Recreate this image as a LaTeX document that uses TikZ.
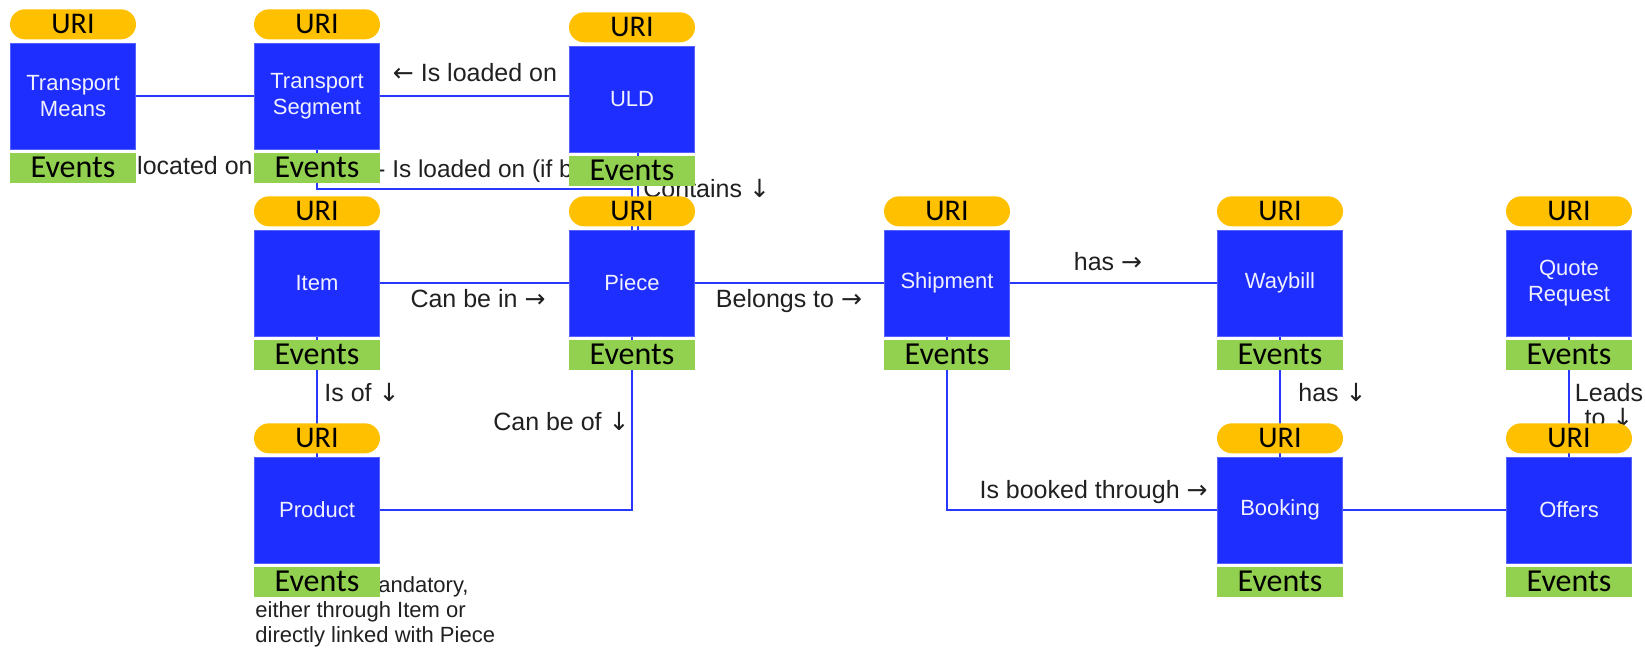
\documentclass[tikz,border=0pt]{standalone}
\usepackage{fontspec}
\setmainfont{Liberation Sans}
\newfontfamily\calibri{Carlito}
\newfontfamily\arrowfont{DejaVu Sans}
\newcommand{\ar}[1]{{\arrowfont #1}}
\usetikzlibrary{positioning,backgrounds}
\definecolor{entblue}{RGB}{30,46,255}
\definecolor{linkblue}{RGB}{40,56,255}
\definecolor{uriyellow}{RGB}{255,192,0}
\definecolor{evtgreen}{RGB}{146,208,80}
\definecolor{lblgray}{RGB}{32,32,32}

\begin{document}
\begin{tikzpicture}[x=0.5pt, y=-0.5pt,
  ent/.style={fill=entblue, draw=entblue!75!white, line width=0.3pt,
              minimum width=62.5pt, minimum height=53pt, inner sep=1pt,
              align=center, text=white!94!blue, font=\fontsize{11}{13}\selectfont},
  uri/.style={fill=uriyellow, rounded corners=7.5pt, minimum width=63pt,
              minimum height=15pt, inner sep=0pt, font=\calibri\fontsize{15}{15}\selectfont},
  evt/.style={fill=evtgreen, minimum width=63pt, minimum height=15pt,
              inner sep=0pt, font=\calibri\fontsize{16}{16}\selectfont},
  link/.style={draw=linkblue, line width=1pt},
  lbl/.style={text=lblgray, inner sep=0pt, font=\fontsize{12.5}{12.5}\selectfont},
  note/.style={text=lblgray, inner sep=0pt, align=left, font=\fontsize{11}{12.5}\selectfont},
  ]
  \useasboundingbox (0,0) rectangle (1645,650);

  % entities
  \node[ent] (tm) at (73,96) {Transport\\Means};
  \node[ent] (ts) at (317,96) {Transport\\Segment};
  \node[ent] (uld) at (632,99) {ULD};
  \node[ent] (item) at (317,283) {Item};
  \node[ent] (piece) at (632,283) {Piece};
  \node[ent] (ship) at (947,283) {Shipment};
  \node[ent] (wb) at (1280,283) {Waybill};
  \node[ent] (qr) at (1569,283) {Quote\\Request};
  \node[ent] (prod) at (317,510) {Product};
  \node[ent] (book) at (1280,510) {Booking};
  \node[ent] (off) at (1569,510) {Offers};

  % URI tags
  \node[uri, above=1.5pt of tm] (tm-u) {URI};
  \node[uri, above=1.5pt of ts] (ts-u) {URI};
  \node[uri, above=1.5pt of uld] (uld-u) {URI};
  \node[uri, above=1.5pt of item] (item-u) {URI};
  \node[uri, above=1.5pt of piece] (piece-u) {URI};
  \node[uri, above=1.5pt of ship] (ship-u) {URI};
  \node[uri, above=1.5pt of wb] (wb-u) {URI};
  \node[uri, above=1.5pt of qr] (qr-u) {URI};
  \node[uri, above=1.5pt of prod] (prod-u) {URI};
  \node[uri, above=1.5pt of book] (book-u) {URI};
  \node[uri, above=1.5pt of off] (off-u) {URI};

  % event bars
  \node[evt, below=1.5pt of tm] (tm-e) {Events};
  \node[evt, below=1.5pt of ts] (ts-e) {Events};
  \node[evt, below=1.5pt of uld] (uld-e) {Events};
  \node[evt, below=1.5pt of item] (item-e) {Events};
  \node[evt, below=1.5pt of piece] (piece-e) {Events};
  \node[evt, below=1.5pt of ship] (ship-e) {Events};
  \node[evt, below=1.5pt of wb] (wb-e) {Events};
  \node[evt, below=1.5pt of qr] (qr-e) {Events};
  \node[evt, below=1.5pt of prod] (prod-e) {Events};
  \node[evt, below=1.5pt of book] (book-e) {Events};
  \node[evt, below=1.5pt of off] (off-e) {Events};

  \begin{scope}[on background layer]
    \draw[link] (tm) -- (ts);
    \draw[link] (ts.east) -- (ts.east -| uld.west);
    \draw[link] (ts.south) -- (ts.south |- 0,189) -| (piece.north);
    \draw[link] ([xshift=3pt]uld.south) -- ([xshift=3pt]piece.north);
    \draw[link] (item) -- (piece);
    \draw[link] (piece) -- (ship);
    \draw[link] (ship) -- (wb);
    \draw[link] (item) -- (prod);
    \draw[link] (piece.south) |- (prod.east);
    \draw[link] (ship.south) |- (book.west);
    \draw[link] (wb) -- (book);
    \draw[link] (book) -- (off);
    \draw[link] (qr) -- (off);

    % relation labels
    \node[lbl, anchor=base east] (l-loc) at (253,174) {located on};
    \node[lbl, anchor=base] (l-load) at (475,81) {\ar{←} Is loaded on};
    \node[lbl, anchor=base west] (l-if) at (377,177) {\fontsize{12.2}{12.2}\selectfont - Is loaded on (if b};
    \node[lbl, anchor=base west] (l-cont) at (643,197) {Contains \ar{↓}};
    \node[lbl, anchor=base] (l-in) at (478,307) {Can be in \ar{→}};
    \node[lbl, anchor=base] (l-bel) at (789,307) {Belongs to \ar{→}};
    \node[lbl, anchor=base] (l-has) at (1108,270) {has \ar{→}};
    \node[lbl, anchor=base west] (l-isof) at (324,401) {Is of \ar{↓}};
    \node[lbl, anchor=base east] (l-canof) at (630,430) {Can be of \ar{↓}};
    \node[lbl, anchor=base east] (l-book) at (1208,498) {Is booked through \ar{→}};
    \node[lbl, anchor=base west] (l-has2) at (1298,401) {has \ar{↓}};
    \node[lbl, anchor=base] (l-leads) at (1609,401) {Leads};
    \node[lbl, anchor=base] (l-to) at (1609,426) {to \ar{↓}};
    \node[note, anchor=north west] (n-prod) at (255,576)
      {\hspace*{61.5pt}andatory,\\either through Item or\\directly linked with Piece};
  \end{scope}
\end{tikzpicture}
\end{document}
